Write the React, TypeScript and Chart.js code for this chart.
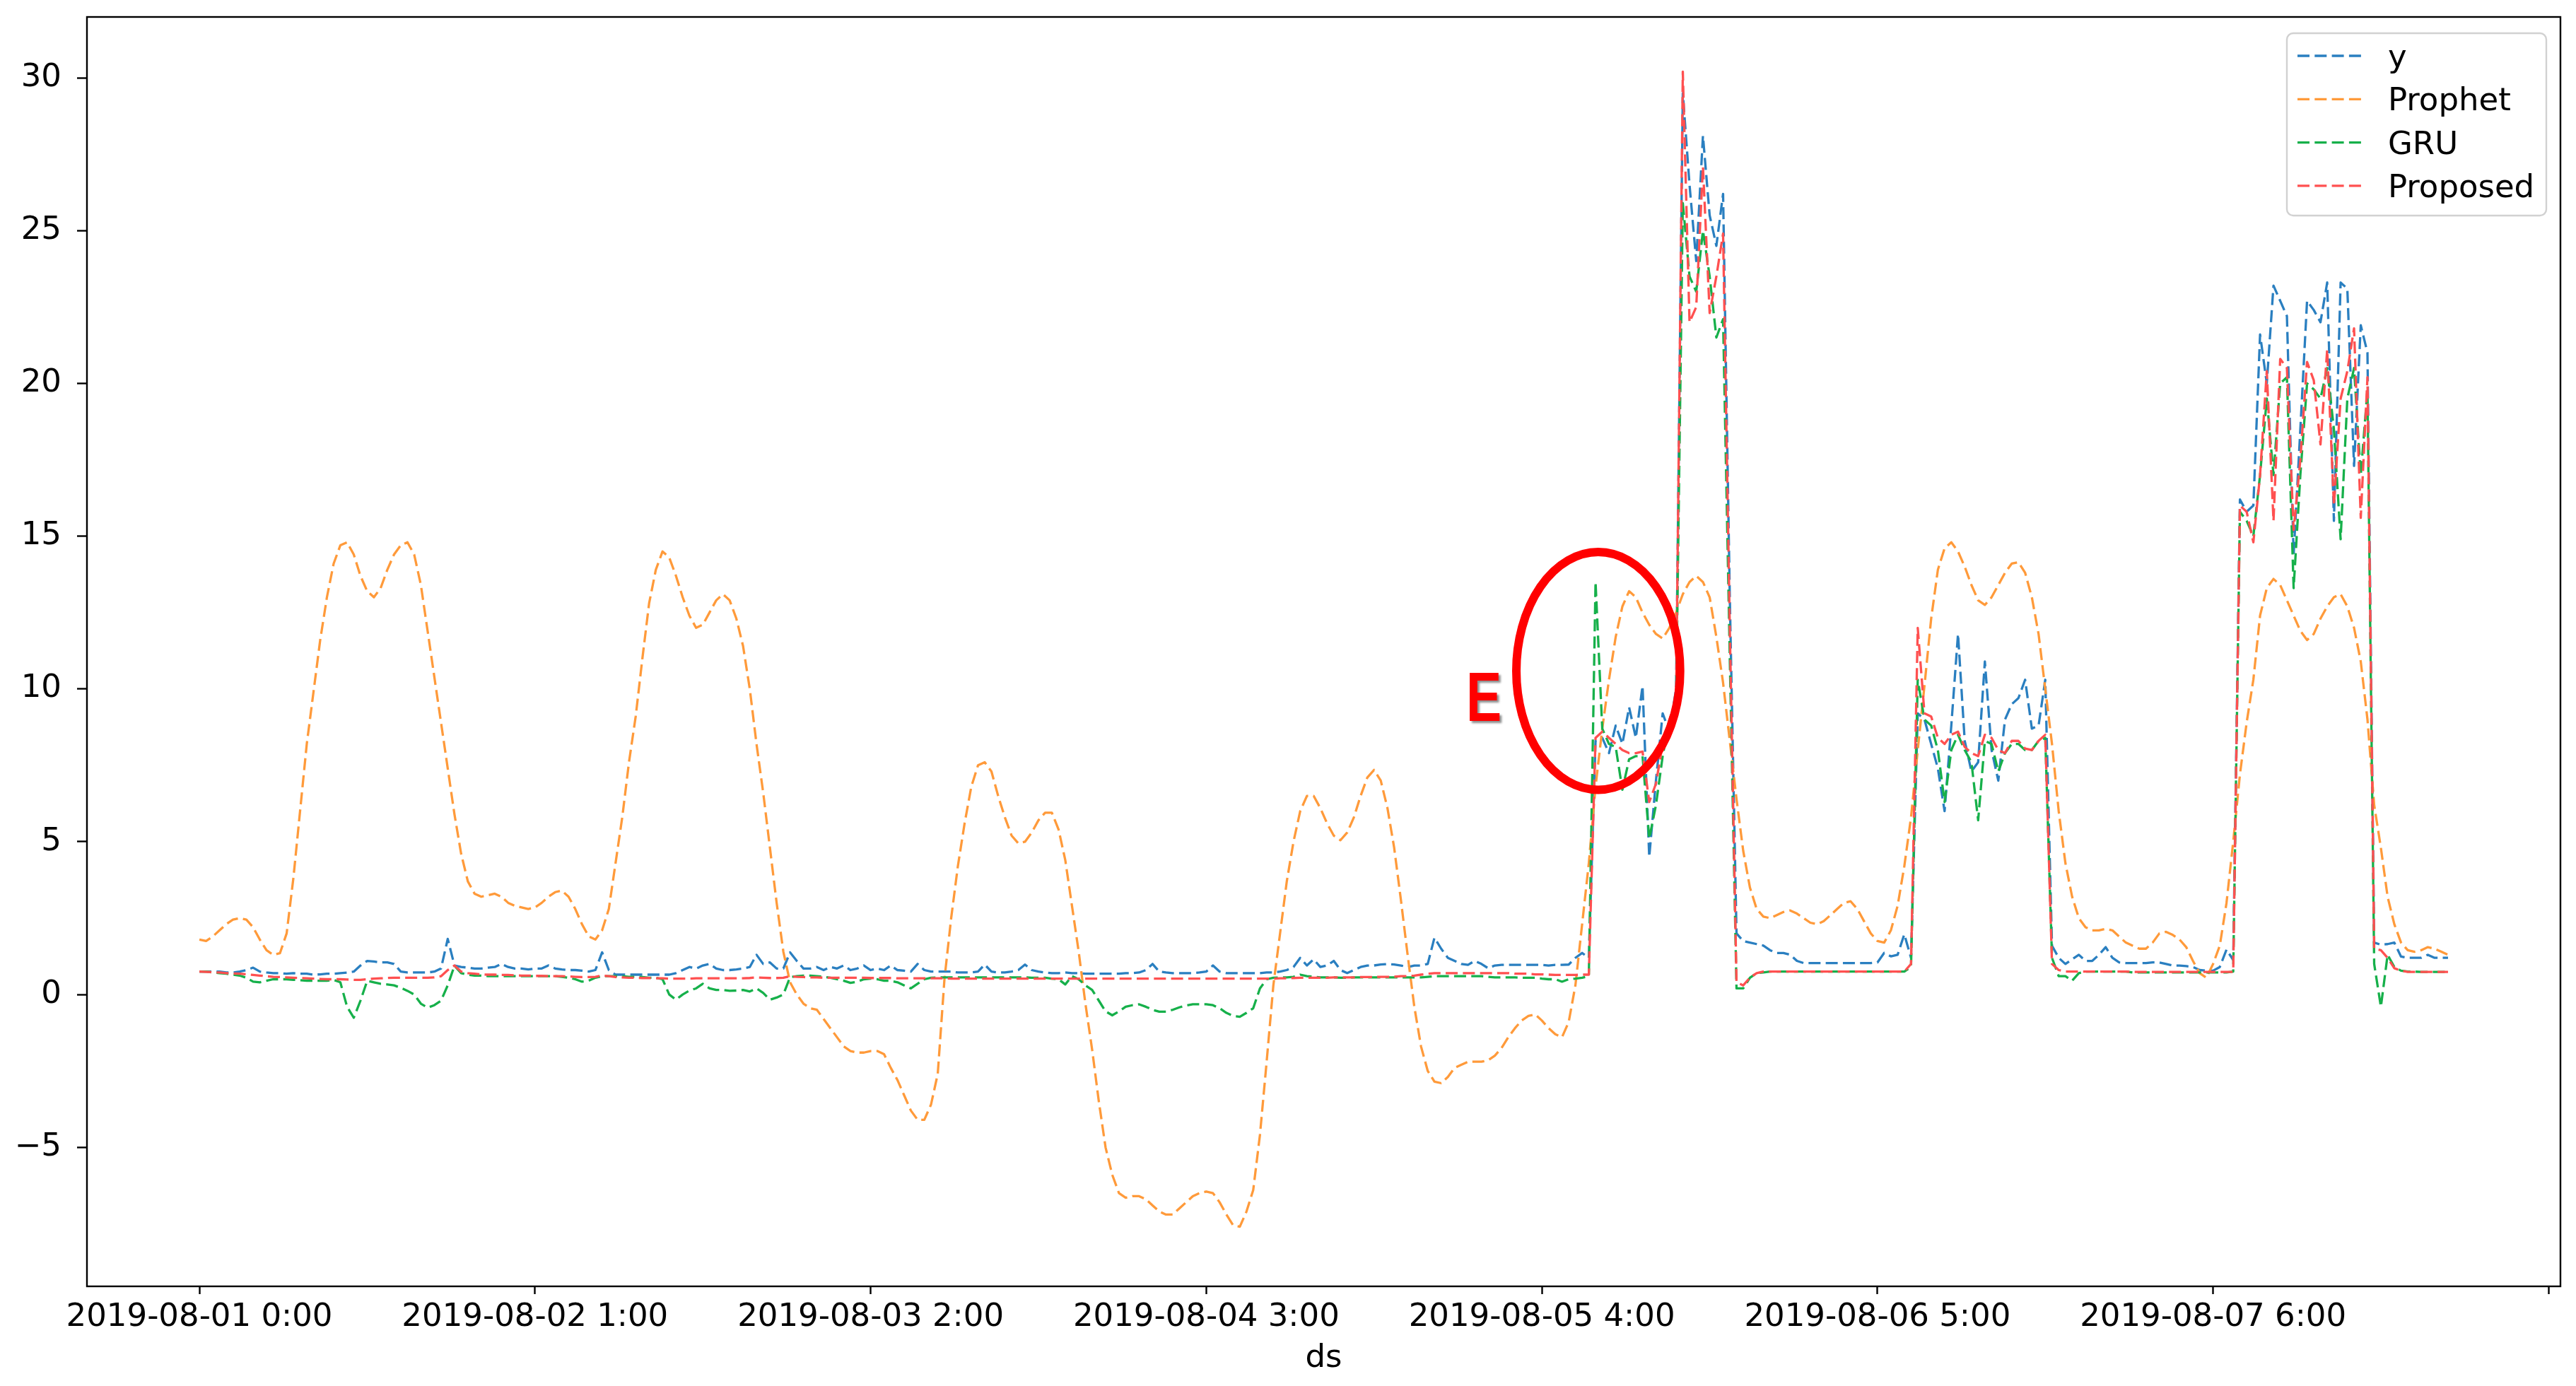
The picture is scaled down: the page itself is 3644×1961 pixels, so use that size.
import React, { useEffect, useRef } from "react";
import { Chart, registerables } from "chart.js";

Chart.register(...registerables);

// ---------- categories (half-hourly time stamps) ----------
const N_POINTS = 336;
const CATEGORIES: string[] = Array.from({ length: N_POINTS }, (_, i) => {
  const mins = i * 30;
  const day = 1 + Math.floor(mins / 1440);
  const h = Math.floor((mins % 1440) / 60);
  const m = mins % 60;
  return `2019-08-${String(day).padStart(2, "0")} ${h}:${String(m).padStart(2, "0")}`;
});
const X_TICK_POSITIONS = [0, 50, 100, 150, 200, 250, 300, 350];
const Y_TICKS = [-5, 0, 5, 10, 15, 20, 25, 30];

// ---------- series ----------
const SERIES_Y = [
  // day 1
  0.75, 0.75, 0.75, 0.75, 0.72, 0.72, 0.75, 0.8, 0.88, 0.75, 0.72, 0.7, 0.7, 0.68, 0.7, 0.68,
  0.68, 0.65, 0.66, 0.68, 0.68, 0.7, 0.72, 0.75, 0.95, 1.1, 1.08, 1.05, 1.05, 1.0, 0.75, 0.72,
  0.72, 0.72, 0.72, 0.75, 0.85, 1.82, 0.95, 0.9, 0.88, 0.85, 0.85, 0.88, 0.9, 1.0, 0.9, 0.85,
  // day 2
  0.85, 0.82, 0.85, 0.85, 0.95, 0.85, 0.82, 0.8, 0.8, 0.78, 0.75, 0.8, 1.38, 0.8, 0.65, 0.65,
  0.65, 0.65, 0.65, 0.65, 0.65, 0.65, 0.65, 0.7, 0.8, 0.9, 0.85, 0.95, 1.0, 0.85, 0.8, 0.8,
  0.82, 0.85, 0.9, 1.3, 1.0, 1.05, 0.85, 0.85, 1.38, 1.1, 0.85, 0.85, 0.9, 0.8, 0.9, 0.85,
  // day 3
  0.95, 0.8, 0.85, 0.95, 0.8, 0.85, 0.8, 0.95, 0.8, 0.78, 0.75, 1.0, 0.8, 0.75, 0.75, 0.75,
  0.75, 0.72, 0.72, 0.72, 0.75, 0.98, 0.75, 0.72, 0.72, 0.75, 0.8, 0.98, 0.8, 0.75, 0.72, 0.7,
  0.7, 0.72, 0.7, 0.7, 0.68, 0.68, 0.68, 0.68, 0.68, 0.68, 0.7, 0.7, 0.72, 0.8, 1.0, 0.75,
  // day 4
  0.72, 0.7, 0.7, 0.7, 0.7, 0.72, 0.75, 0.95, 0.75, 0.7, 0.7, 0.7, 0.7, 0.7, 0.7, 0.72,
  0.72, 0.75, 0.8, 0.9, 1.2, 0.95, 1.15, 0.9, 0.95, 1.1, 0.8, 0.7, 0.8, 0.9, 0.95, 0.95,
  0.98, 1.0, 0.98, 0.95, 0.9, 0.95, 0.95, 1.0, 1.86, 1.5, 1.2, 1.1, 1.0, 0.97, 1.1, 1.0,
  // day 5
  0.86, 0.95, 0.97, 0.97, 0.97, 0.97, 0.97, 0.97, 0.97, 0.95, 0.97, 0.97, 0.98, 1.2, 1.36, 1.2,
  8.3, 8.4, 7.9, 8.8, 8.2, 9.4, 8.4, 10.1, 4.5, 7.0, 9.2, 8.6, 10.0, 29.5, 26.5, 24.0,
  28.1, 25.5, 24.5, 26.2, 13.0, 2.0, 1.75, 1.7, 1.65, 1.6, 1.45, 1.36, 1.36, 1.3, 1.1, 1.03,
  // day 6
  1.03, 1.03, 1.03, 1.03, 1.03, 1.03, 1.03, 1.03, 1.03, 1.03, 1.05, 1.36, 1.25, 1.3, 1.97, 1.2,
  9.2, 9.0, 8.2, 7.4, 6.0, 8.8, 11.8, 8.3, 7.3, 7.6, 10.9, 8.0, 7.0, 9.0, 9.5, 9.7,
  10.3, 8.7, 8.8, 10.3, 1.6, 1.2, 1.0, 1.15, 1.3, 1.1, 1.1, 1.3, 1.55, 1.2, 1.05, 1.03,
  // day 7
  1.03, 1.03, 1.03, 1.05, 1.05, 1.0, 0.95, 0.95, 0.93, 0.9, 0.8, 0.78, 0.78, 0.9, 1.47, 1.13,
  16.2, 15.8, 16.0, 21.6, 20.0, 23.2, 22.7, 22.2, 14.4, 18.5, 22.7, 22.4, 22.0, 23.3, 15.5, 23.3,
  23.1, 17.3, 21.9, 21.0, 1.7, 1.63, 1.65, 1.7, 1.24, 1.2, 1.2, 1.2, 1.3, 1.2, 1.2, 1.2,
];

const SERIES_PROPHET = [
  // day 1
  1.8, 1.75, 1.9, 2.1, 2.3, 2.45, 2.5, 2.45, 2.2, 1.8, 1.45, 1.3, 1.35, 2.0, 3.8, 6.0,
  8.2, 9.9, 11.6, 13.0, 14.1, 14.7, 14.8, 14.4, 13.7, 13.2, 13.0, 13.3, 13.9, 14.4, 14.7, 14.8,
  14.4, 13.4, 11.9, 10.4, 8.9, 7.4, 5.9, 4.6, 3.7, 3.3, 3.2, 3.25, 3.3, 3.2, 3.0, 2.9,
  // day 2
  2.85, 2.8, 2.85, 3.0, 3.2, 3.35, 3.4, 3.2, 2.8, 2.3, 1.9, 1.8, 2.1, 2.8, 4.3, 5.8,
  7.6, 9.1, 11.0, 12.8, 13.9, 14.5, 14.3, 13.7, 13.0, 12.4, 12.0, 12.1, 12.5, 12.9, 13.1, 12.9,
  12.3, 11.4, 10.0, 8.2, 6.6, 4.8, 3.0, 1.4, 0.4, 0.0, -0.3, -0.45, -0.5, -0.8, -1.1, -1.4,
  // day 3
  -1.7, -1.85, -1.9, -1.9, -1.85, -1.85, -1.95, -2.4, -2.8, -3.3, -3.8, -4.1, -4.1, -3.6, -2.6, 0.5,
  2.5, 4.2, 5.6, 6.8, 7.5, 7.6, 7.3, 6.5, 5.8, 5.2, 4.95, 5.0, 5.3, 5.7, 5.95, 5.95,
  5.4, 4.4, 2.9, 1.4, -0.3, -1.8, -3.5, -5.0, -5.9, -6.5, -6.65, -6.6, -6.6, -6.7, -6.9, -7.1,
  // day 4
  -7.2, -7.2, -7.0, -6.8, -6.6, -6.5, -6.45, -6.5, -6.8, -7.2, -7.55, -7.6, -7.1, -6.4, -4.6, -2.2,
  0.3, 2.0, 3.7, 5.0, 6.0, 6.5, 6.5, 6.1, 5.6, 5.2, 5.05, 5.3, 5.8, 6.5, 7.1, 7.35,
  7.0, 6.1, 4.8, 3.1, 1.3, -0.4, -1.7, -2.5, -2.85, -2.9, -2.7, -2.4, -2.3, -2.2, -2.2, -2.2,
  // day 5
  -2.15, -2.0, -1.75, -1.4, -1.1, -0.85, -0.7, -0.65, -0.85, -1.1, -1.3, -1.4, -0.9, 0.3, 2.3, 4.3,
  6.8, 8.7, 10.3, 11.7, 12.7, 13.2, 13.0, 12.5, 12.1, 11.8, 11.65, 12.0, 12.5, 13.1, 13.5, 13.7,
  13.5, 13.0, 11.7, 10.2, 8.3, 6.4, 4.7, 3.5, 2.8, 2.55, 2.5, 2.6, 2.7, 2.75, 2.65, 2.5,
  // day 6
  2.35, 2.3, 2.4, 2.6, 2.8, 3.0, 3.05, 2.8, 2.4, 2.0, 1.75, 1.7, 2.1, 2.9, 4.2, 5.8,
  8.0, 10.1, 12.3, 13.9, 14.6, 14.8, 14.5, 14.0, 13.4, 12.9, 12.75, 13.0, 13.4, 13.8, 14.1, 14.15,
  13.8, 13.0, 11.8, 10.0, 8.2, 6.0, 4.3, 3.2, 2.5, 2.2, 2.1, 2.1, 2.15, 2.1, 1.9, 1.7,
  // day 7
  1.6, 1.5, 1.5, 1.7, 2.0, 2.05, 1.95, 1.8, 1.55, 1.1, 0.7, 0.55, 1.0, 1.6, 3.0, 5.0,
  7.2, 8.9, 10.3, 12.4, 13.3, 13.6, 13.4, 12.9, 12.4, 11.9, 11.6, 11.8, 12.3, 12.7, 13.0, 13.1,
  12.7, 12.0, 10.9, 9.0, 6.2, 4.8, 3.2, 2.3, 1.7, 1.45, 1.4, 1.45, 1.55, 1.5, 1.4, 1.3,
];

const SERIES_GRU = [
  // day 1
  0.75, 0.75, 0.72, 0.7, 0.68, 0.65, 0.62, 0.55, 0.42, 0.4, 0.45, 0.5, 0.5, 0.5, 0.48, 0.47,
  0.45, 0.45, 0.45, 0.45, 0.48, 0.4, -0.4, -0.76, -0.2, 0.45, 0.4, 0.35, 0.33, 0.3, 0.22, 0.12,
  0.0, -0.3, -0.43, -0.35, -0.2, 0.3, 0.94, 0.7, 0.65, 0.62, 0.62, 0.6, 0.6, 0.6, 0.6, 0.6,
  // day 2
  0.6, 0.6, 0.6, 0.6, 0.6, 0.6, 0.58, 0.55, 0.5, 0.42, 0.45, 0.55, 0.6, 0.6, 0.6, 0.6,
  0.58, 0.58, 0.57, 0.55, 0.55, 0.5, 0.0, -0.17, 0.0, 0.13, 0.2, 0.35, 0.2, 0.15, 0.15, 0.12,
  0.13, 0.15, 0.1, 0.2, 0.05, -0.17, -0.1, 0.0, 0.57, 0.6, 0.62, 0.62, 0.6, 0.58, 0.55, 0.5,
  // day 3
  0.45, 0.38, 0.42, 0.5, 0.52, 0.5, 0.45, 0.45, 0.4, 0.3, 0.2, 0.35, 0.5, 0.55, 0.56, 0.56,
  0.56, 0.56, 0.56, 0.56, 0.56, 0.56, 0.56, 0.56, 0.56, 0.56, 0.56, 0.56, 0.55, 0.55, 0.55, 0.52,
  0.5, 0.33, 0.6, 0.5, 0.3, 0.15, -0.2, -0.55, -0.68, -0.55, -0.4, -0.35, -0.32, -0.4, -0.5, -0.56,
  // day 4
  -0.56, -0.5, -0.42, -0.36, -0.32, -0.32, -0.32, -0.35, -0.45, -0.6, -0.7, -0.73, -0.6, -0.45, 0.2, 0.5,
  0.55, 0.56, 0.56, 0.58, 0.65, 0.6, 0.58, 0.56, 0.56, 0.56, 0.55, 0.55, 0.56, 0.56, 0.56, 0.56,
  0.56, 0.56, 0.56, 0.56, 0.56, 0.56, 0.56, 0.58, 0.6, 0.6, 0.6, 0.6, 0.6, 0.6, 0.6, 0.6,
  // day 5
  0.58, 0.56, 0.56, 0.56, 0.56, 0.55, 0.55, 0.55, 0.52, 0.5, 0.5, 0.42, 0.5, 0.52, 0.55, 0.6,
  13.5, 8.7, 8.2, 8.1, 6.7, 7.7, 7.8, 7.8, 5.1, 6.2, 7.8, 9.0, 9.5, 25.9, 23.5, 23.0,
  25.0, 23.5, 21.5, 22.1, 11.0, 0.2, 0.2, 0.55, 0.7, 0.72, 0.75, 0.75, 0.75, 0.75, 0.75, 0.75,
  // day 6
  0.75, 0.75, 0.75, 0.75, 0.75, 0.75, 0.75, 0.75, 0.75, 0.75, 0.75, 0.75, 0.75, 0.75, 0.75, 0.9,
  10.3, 9.0, 8.8, 8.0, 6.3, 8.0, 8.5, 8.0, 7.6, 5.7, 8.3, 8.2, 7.3, 7.9, 8.2, 8.2,
  8.0, 8.0, 8.3, 8.4, 1.2, 0.6, 0.6, 0.45, 0.7, 0.75, 0.75, 0.75, 0.75, 0.75, 0.75, 0.75,
  // day 7
  0.72, 0.72, 0.72, 0.72, 0.72, 0.72, 0.72, 0.72, 0.72, 0.72, 0.72, 0.72, 0.72, 0.72, 0.72, 0.75,
  15.8, 15.5, 15.0, 17.0, 19.5, 17.0, 20.0, 20.2, 13.3, 17.0, 20.0, 19.8, 19.5, 20.5, 18.5, 14.9,
  19.5, 20.5, 17.0, 19.8, 1.0, -0.4, 1.3, 0.9, 0.78, 0.75, 0.75, 0.74, 0.74, 0.74, 0.74, 0.74,
];

const SERIES_PROPOSED = [
  // day 1
  0.75, 0.74, 0.73, 0.72, 0.7, 0.69, 0.68, 0.66, 0.64, 0.62, 0.6, 0.58, 0.57, 0.56, 0.55, 0.54,
  0.53, 0.52, 0.51, 0.5, 0.5, 0.5, 0.49, 0.48, 0.48, 0.5, 0.52, 0.53, 0.54, 0.55, 0.55, 0.55,
  0.55, 0.55, 0.55, 0.56, 0.6, 0.8, 0.95, 0.75, 0.7, 0.68, 0.66, 0.65, 0.65, 0.64, 0.64, 0.63,
  // day 2
  0.62, 0.62, 0.61, 0.61, 0.6, 0.6, 0.6, 0.59, 0.58, 0.57, 0.57, 0.58, 0.62, 0.6, 0.57, 0.56,
  0.55, 0.55, 0.54, 0.54, 0.53, 0.53, 0.52, 0.52, 0.52, 0.52, 0.53, 0.53, 0.53, 0.53, 0.53, 0.53,
  0.53, 0.53, 0.54, 0.56, 0.55, 0.54, 0.54, 0.55, 0.6, 0.58, 0.57, 0.56, 0.56, 0.55, 0.55, 0.55,
  // day 3
  0.55, 0.55, 0.55, 0.55, 0.54, 0.54, 0.54, 0.54, 0.53, 0.53, 0.53, 0.53, 0.53, 0.53, 0.53, 0.53,
  0.52, 0.52, 0.52, 0.52, 0.52, 0.52, 0.52, 0.52, 0.52, 0.52, 0.52, 0.52, 0.52, 0.52, 0.52, 0.52,
  0.52, 0.52, 0.52, 0.52, 0.52, 0.52, 0.52, 0.52, 0.52, 0.52, 0.52, 0.52, 0.52, 0.52, 0.52, 0.52,
  // day 4
  0.52, 0.52, 0.52, 0.52, 0.52, 0.52, 0.52, 0.52, 0.52, 0.52, 0.52, 0.52, 0.52, 0.52, 0.52, 0.52,
  0.52, 0.53, 0.53, 0.54, 0.55, 0.55, 0.55, 0.55, 0.55, 0.56, 0.56, 0.56, 0.56, 0.57, 0.57, 0.57,
  0.58, 0.58, 0.58, 0.6, 0.6, 0.62, 0.65, 0.68, 0.7, 0.7, 0.7, 0.7, 0.7, 0.7, 0.7, 0.7,
  // day 5
  0.7, 0.7, 0.7, 0.7, 0.68, 0.68, 0.68, 0.66, 0.66, 0.65, 0.64, 0.64, 0.64, 0.64, 0.65, 0.65,
  8.4, 8.6, 8.4, 8.2, 8.0, 7.9, 7.9, 7.95, 6.3, 6.9, 8.2, 9.0, 9.6, 30.2, 22.0, 22.5,
  27.1, 22.3, 23.5, 24.9, 12.0, 0.4, 0.3, 0.55, 0.7, 0.75, 0.75, 0.75, 0.75, 0.75, 0.75, 0.75,
  // day 6
  0.75, 0.75, 0.75, 0.75, 0.75, 0.75, 0.75, 0.75, 0.75, 0.75, 0.75, 0.75, 0.75, 0.75, 0.75, 1.0,
  12.0, 9.2, 9.1, 8.4, 8.2, 8.5, 8.6, 8.1, 7.9, 7.8, 8.5, 8.4, 8.0, 7.9, 8.3, 8.3,
  8.05, 8.0, 8.3, 8.5, 1.0, 0.8, 0.75, 0.75, 0.75, 0.75, 0.75, 0.75, 0.75, 0.75, 0.75, 0.75,
  // day 7
  0.74, 0.74, 0.74, 0.74, 0.74, 0.74, 0.74, 0.74, 0.74, 0.74, 0.74, 0.74, 0.74, 0.74, 0.74, 0.74,
  16.0, 15.8, 14.8, 17.0, 20.4, 15.5, 20.8, 20.5, 15.2, 17.5, 20.7, 20.1, 18.0, 21.1, 16.0, 19.5,
  20.4, 21.8, 15.6, 20.2, 1.5, 1.45, 1.2, 0.86, 0.78, 0.74, 0.74, 0.74, 0.74, 0.74, 0.74, 0.74,
];

const SERIES_NAMES = ["y", "Prophet", "GRU", "Proposed"];
const SERIES_COLORS = ["#2a7fc0", "#ff9a3a", "#16b04a", "#ff5050"];

// annotation (in data coordinates: x = half-hour index, y = value)
const ELLIPSE = { cx: 208.4, cy: 10.59, rx: 12.2, ry: 3.89 };
const E_LABEL = { text: "E", x: 189.2, y: 8.95 };

// ---------- styling ----------
const FONT_FAMILY = "'DejaVu Sans', 'Liberation Sans', sans-serif";
const FONT_SIZE = 45;
const LINE_WIDTH = 3.3;
const DASH = [17, 7.3];

const overlayPlugin = {
  id: "overlay",
  afterDatasetsDraw(chart: any) {
    const { ctx, chartArea: a, scales } = chart;
    const xs = scales.x;
    const ys = scales.y;
    ctx.save();

    // axes frame (all four spines)
    ctx.setLineDash([]);
    ctx.strokeStyle = "#000";
    ctx.lineWidth = 2.4;
    ctx.strokeRect(a.left, a.top, a.right - a.left, a.bottom - a.top);

    // red ellipse annotation
    const cx = xs.getPixelForValue(ELLIPSE.cx);
    const cy = ys.getPixelForValue(ELLIPSE.cy);
    const rx = xs.getPixelForValue(ELLIPSE.cx + ELLIPSE.rx) - cx;
    const ry = cy - ys.getPixelForValue(ELLIPSE.cy + ELLIPSE.ry);
    ctx.beginPath();
    ctx.ellipse(cx, cy, rx, ry, 0, 0, Math.PI * 2);
    ctx.strokeStyle = "#ff0000";
    ctx.lineWidth = 12;
    ctx.stroke();

    // "E" label
    ctx.save();
    ctx.font = "bold 98px 'Liberation Sans', Arial, sans-serif";
    const m = ctx.measureText(E_LABEL.text);
    const gw = m.actualBoundingBoxRight + m.actualBoundingBoxLeft;
    const sx = 43 / gw;
    const ex = xs.getPixelForValue(E_LABEL.x);
    const ey = ys.getPixelForValue(E_LABEL.y);
    ctx.translate(ex, ey);
    ctx.scale(sx, 1);
    ctx.shadowColor = "rgba(0,0,0,0.45)";
    ctx.shadowOffsetX = 3;
    ctx.shadowOffsetY = 3;
    ctx.shadowBlur = 3;
    ctx.fillStyle = "#ff0000";
    ctx.textBaseline = "alphabetic";
    ctx.textAlign = "left";
    ctx.fillText(E_LABEL.text, m.actualBoundingBoxLeft, 0);
    ctx.restore();

    // legend (matplotlib style, upper right)
    const lw = 367;
    const lh = 258;
    const lx = a.right - 20 - lw;
    const ly = a.top + 23;
    ctx.beginPath();
    if (ctx.roundRect) ctx.roundRect(lx, ly, lw, lh, 9);
    else ctx.rect(lx, ly, lw, lh);
    ctx.fillStyle = "rgba(255,255,255,0.8)";
    ctx.fill();
    ctx.strokeStyle = "rgba(204,204,204,0.9)";
    ctx.lineWidth = 2.4;
    ctx.stroke();
    ctx.font = `${FONT_SIZE}px ${FONT_FAMILY}`;
    ctx.textAlign = "left";
    ctx.textBaseline = "alphabetic";
    SERIES_NAMES.forEach((name, i) => {
      const rowY = ly + 32 + i * 61.3;
      ctx.beginPath();
      ctx.setLineDash(DASH);
      ctx.lineCap = "butt";
      ctx.strokeStyle = SERIES_COLORS[i];
      ctx.lineWidth = LINE_WIDTH;
      ctx.moveTo(lx + 15, rowY);
      ctx.lineTo(lx + 106, rowY);
      ctx.stroke();
      ctx.setLineDash([]);
      ctx.fillStyle = "#000";
      ctx.fillText(name, lx + 143, rowY + 16);
    });

    ctx.restore();
  },
};

function makeDataset(label: string, values: number[], color: string, order: number) {
  return {
    label,
    data: values.map((v, i) => ({ x: i, y: v })),
    borderColor: color,
    backgroundColor: color,
    borderWidth: LINE_WIDTH,
    borderDash: DASH,
    borderCapStyle: "butt",
    borderJoinStyle: "round",
    pointRadius: 0,
    pointHoverRadius: 0,
    tension: 0,
    fill: false,
    order,
  };
}

function resetPadding(s: any) {
  s.paddingTop = 0;
  s.paddingBottom = 0;
  s.paddingLeft = 0;
  s.paddingRight = 0;
}

export default function App() {
  const ref = useRef<HTMLCanvasElement | null>(null);

  useEffect(() => {
    document.body.style.margin = "0";
    document.body.style.overflow = "hidden";
    const canvas = ref.current;
    if (!canvas) return;

    const tickFont = { family: FONT_FAMILY, size: FONT_SIZE };

    const chart = new Chart(canvas, {
      type: "line",
      data: {
        datasets: [
          makeDataset(SERIES_NAMES[0], SERIES_Y, SERIES_COLORS[0], 4),
          makeDataset(SERIES_NAMES[1], SERIES_PROPHET, SERIES_COLORS[1], 3),
          makeDataset(SERIES_NAMES[2], SERIES_GRU, SERIES_COLORS[2], 2),
          makeDataset(SERIES_NAMES[3], SERIES_PROPOSED, SERIES_COLORS[3], 1),
        ] as any,
      },
      options: {
        responsive: false,
        maintainAspectRatio: false,
        animation: false,
        devicePixelRatio: 1,
        events: [],
        layout: { padding: { left: 0, right: 22, top: 24, bottom: 0 } },
        plugins: {
          legend: { display: false },
          tooltip: { enabled: false },
          title: { display: false },
        },
        scales: {
          x: {
            type: "linear",
            min: -16.75,
            max: 351.75,
            afterBuildTicks: (s: any) => {
              s.ticks = X_TICK_POSITIONS.map((v) => ({ value: v }));
            },
            afterFit: (s: any) => {
              s.height = 141;
              resetPadding(s);
            },
            ticks: {
              autoSkip: false,
              maxRotation: 0,
              minRotation: 0,
              padding: 6,
              color: "#000",
              font: tickFont,
              callback: (v: any) => CATEGORIES[Number(v)] ?? "",
            },
            grid: {
              display: true,
              drawOnChartArea: false,
              drawTicks: true,
              tickLength: 11,
              tickWidth: 2.4,
              tickColor: "#000",
            },
            border: { display: false },
            title: {
              display: true,
              text: "ds",
              color: "#000",
              font: tickFont,
              padding: { top: 0, bottom: 12 },
            },
          },
          y: {
            type: "linear",
            min: -9.55,
            max: 31.99,
            afterBuildTicks: (s: any) => {
              s.ticks = Y_TICKS.map((v) => ({ value: v }));
            },
            afterFit: (s: any) => {
              s.width = 123;
              resetPadding(s);
            },
            ticks: {
              padding: 22,
              color: "#000",
              font: tickFont,
              callback: (v: any) => (Number(v) < 0 ? "\u2212" + Math.abs(Number(v)) : String(v)),
            },
            grid: {
              display: true,
              drawOnChartArea: false,
              drawTicks: true,
              tickLength: 14,
              tickWidth: 2.4,
              tickColor: "#000",
            },
            border: { display: false },
          },
        },
      } as any,
      plugins: [overlayPlugin],
    });

    return () => chart.destroy();
  }, []);

  return (
    <canvas
      ref={ref}
      width={3644}
      height={1961}
      style={{ position: "absolute", left: 0, top: 0, width: 3644, height: 1961, display: "block" }}
    />
  );
}
